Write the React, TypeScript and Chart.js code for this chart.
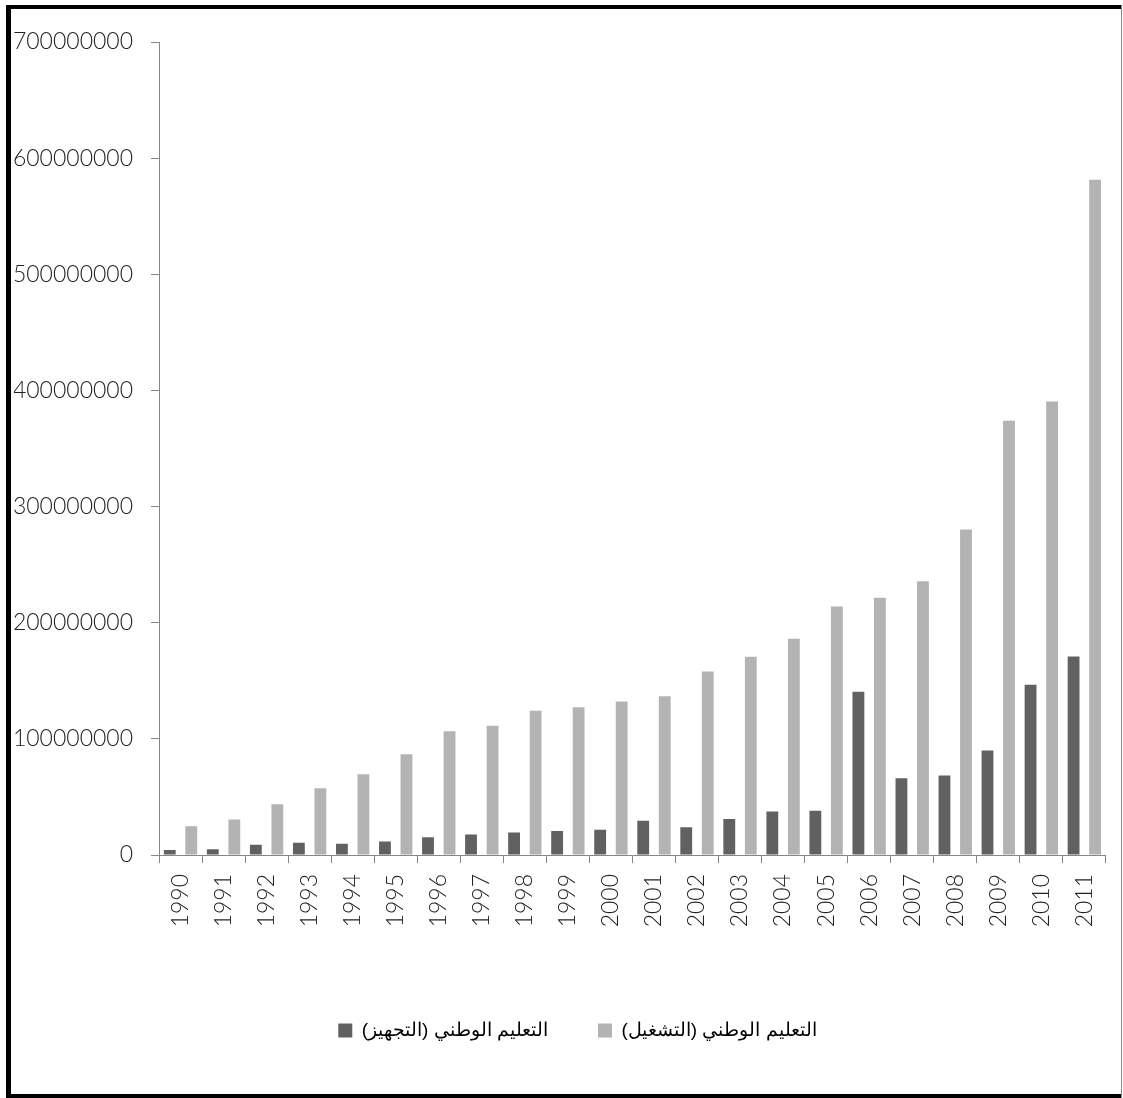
import React, { useEffect, useRef } from "react";
import { Chart, registerables } from "chart.js";

Chart.register(...registerables);

const years = ["1990","1991","1992","1993","1994","1995","1996","1997","1998","1999","2000","2001","2002","2003","2004","2005","2006","2007","2008","2009","2010","2011"];
const equipmentLabel = "التعليم الوطني (التجهيز)";
const operatingLabel = "التعليم الوطني (التشغيل)";
// values in units (dinars)
const equipment = [4300000, 4900000, 8900000, 10500000, 9600000, 11600000, 15200000, 17700000, 19400000, 20600000, 21700000, 29400000, 23800000, 30900000, 37500000, 38100000, 140500000, 66100000, 68500000, 90000000, 146500000, 171000000];
const operating = [24700000, 30500000, 43700000, 57500000, 69500000, 86800000, 106600000, 111200000, 124100000, 127200000, 132100000, 136700000, 158000000, 170600000, 186200000, 214000000, 221500000, 235600000, 280200000, 373800000, 390500000, 581300000];
const yMax = 700000000;
const yStep = 100000000;

const axisColor = "#868686";
const tickFont = { family: "Lato, 'Open Sans', sans-serif", size: 23, weight: 300 as any };

const framePlugin = {
  id: "frame",
  afterLayout(chart: any) {
    const lg = chart.legend;
    if (lg) { lg.left += 10; lg.right += 10; }
  },
  afterDraw(chart: any) {
    const ctx = chart.ctx;
    ctx.save();
    ctx.fillStyle = "#000";
    ctx.fillRect(6, 5, 1116, 4);
    ctx.fillRect(6, 5, 5, 1093);
    ctx.fillRect(6, 1094, 1116, 4);
    ctx.fillStyle = "#8a8a8a";
    ctx.fillRect(1121, 5, 1, 1093);
    ctx.restore();
  },
};

export default function App() {
  const ref = useRef<HTMLCanvasElement | null>(null);
  useEffect(() => {
    if (!ref.current) return;
    const chart = new Chart(ref.current, {
      type: "bar",
      data: {
        labels: years,
        datasets: [
          { label: equipmentLabel, data: equipment, backgroundColor: "#616161", borderWidth: 0, barPercentage: 0.55, categoryPercentage: 1 },
          { label: operatingLabel, data: operating, backgroundColor: "#b3b3b3", borderWidth: 0, barPercentage: 0.55, categoryPercentage: 1 },
        ],
      },
      options: {
        animation: false,
        responsive: false,
        maintainAspectRatio: false,
        layout: { padding: { left: 14, right: 2, top: 42, bottom: 48 } },
        plugins: {
          tooltip: { enabled: false },
          legend: {
            position: "bottom",
            textDirection: "rtl",
            labels: {
              color: "#000",
              font: { family: "'Liberation Sans', Arial, sans-serif", size: 19 },
              boxWidth: 14,
              boxHeight: 14,
              padding: 50,
            },
          },
        },
        scales: {
          x: {
            grid: { display: true, drawOnChartArea: false, drawTicks: true, tickLength: 8, color: axisColor, offset: true },
            border: { display: true, color: axisColor, width: 1 },
            ticks: { color: "#222", font: tickFont, minRotation: 90, maxRotation: 90, padding: 11, autoSkip: false },
            afterFit: (scale: any) => { scale.height = 116; },
          },
          y: {
            min: 0,
            max: yMax,
            grid: { display: true, drawOnChartArea: false, drawTicks: true, tickLength: 8, color: axisColor },
            border: { display: true, color: axisColor, width: 1 },
            ticks: { stepSize: yStep, color: "#222", font: tickFont, padding: 18, callback: (v: any) => String(v) },
            afterFit: (scale: any) => { scale.width = 145; },
          },
        },
      },
      plugins: [framePlugin],
    });
    return () => chart.destroy();
  }, []);
  return (
    <div style={{ position: "absolute", left: 0, top: 0, width: 1123, height: 1098, background: "#fff" }}>
      <canvas ref={ref} width={1123} height={1098} style={{ width: 1123, height: 1098, display: "block" }} />
    </div>
  );
}
